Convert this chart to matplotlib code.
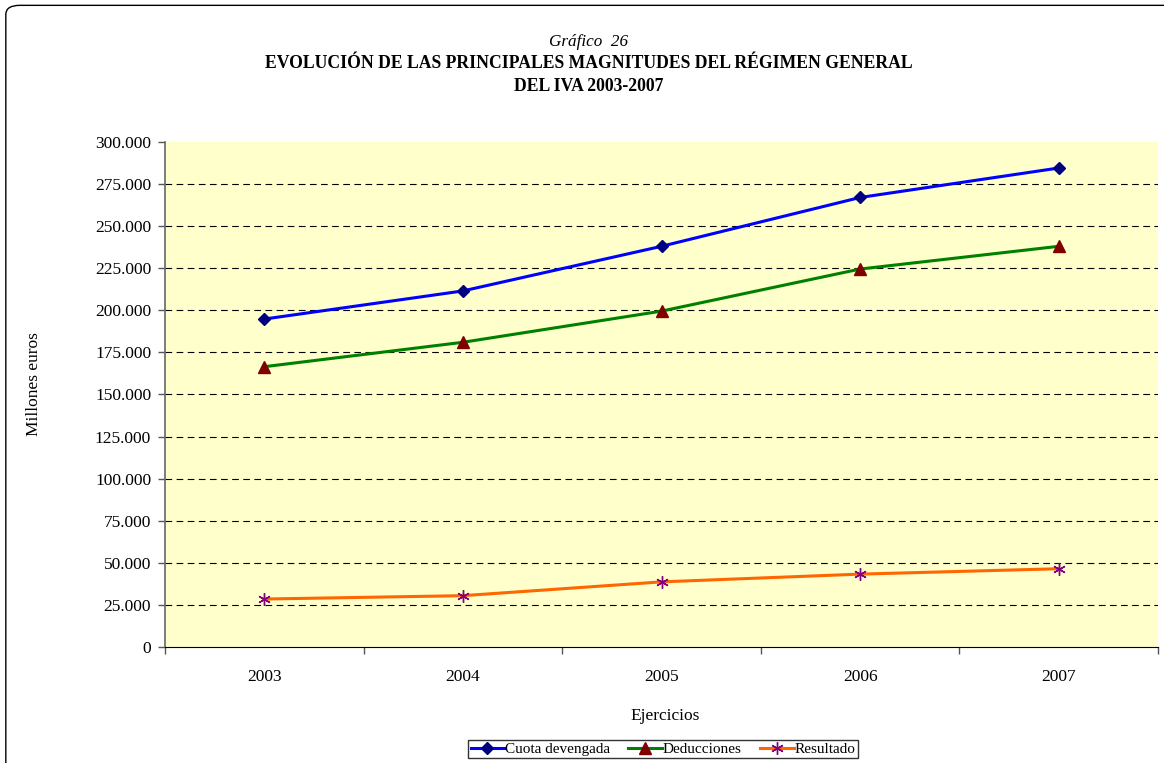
import matplotlib
matplotlib.use("Agg")
import matplotlib.pyplot as plt
from matplotlib.patches import FancyBboxPatch
from matplotlib.ticker import FuncFormatter, FixedLocator
import numpy as np

plt.rcParams['font.family'] = ['Liberation Serif', 'DejaVu Serif']

years = ["2003", "2004", "2005", "2006", "2007"]
cuota = [194800, 211500, 238000, 267000, 284500]
deducciones = [166500, 181000, 199500, 224500, 238000]
resultado = [28500, 30500, 38700, 43300, 46500]

fig = plt.figure(figsize=(11.64, 7.63), dpi=100)

# rounded frame around the whole chart
frame = FancyBboxPatch((0.005, -0.05), 1.2, 1.043, boxstyle="round,pad=0,rounding_size=0.012",
                       transform=fig.transFigure, fill=False, edgecolor="black", linewidth=1.0)
fig.patches.append(frame)

ax = fig.add_axes([0.1418, 0.152, 0.853, 0.662])
ax.set_facecolor("#ffffcc")

x = np.arange(len(years))
ax.plot(x, cuota, color="#0000ff", lw=2.2, marker="D", ms=6.5, mfc="#000080", mec="#000080",
        label="Cuota devengada", zorder=3)
ax.plot(x, deducciones, color="#008000", lw=2.2, marker="^", ms=8, mfc="#800000", mec="#800000",
        label="Deducciones", zorder=3)
ax.plot(x, resultado, color="#ff6600", lw=2.2, marker=(6, 2, 0), ms=9, mfc="#800080", mec="#800080",
        mew=1.0, label="Resultado", zorder=3)

ax.set_xlim(-0.5, len(years) - 0.5)
ax.set_ylim(0, 300000)
ax.set_yticks(np.arange(0, 300001, 25000))
ax.yaxis.set_major_formatter(FuncFormatter(lambda v, p: "0" if v == 0 else f"{int(v):,}".replace(",", ".")))
for yv in np.arange(25000, 300000, 25000):
    ax.axhline(yv, color="black", lw=0.8, ls=(0, (6, 4)), zorder=1)

ax.set_xticks(x)
ax.set_xticklabels(years)
ax.tick_params(axis="x", which="major", length=0, pad=16, labelsize=12.5)
ax.xaxis.set_minor_locator(FixedLocator(np.arange(-0.5, len(years), 1.0)))
ax.tick_params(axis="x", which="minor", length=5, width=1, color="#555555")
ax.tick_params(axis="y", length=5, width=1, color="#555555", labelsize=12.5, pad=5)

for s in ["top", "right"]:
    ax.spines[s].set_visible(False)
ax.spines["left"].set_color("#666666")
ax.spines["left"].set_linewidth(1.2)
ax.spines["bottom"].set_color("black")

fig.text(0.506, 0.945, "Gráfico  26", ha="center", va="center", fontsize=12.3, style="italic")
fig.text(0.506, 0.917, "EVOLUCIÓN DE LAS PRINCIPALES MAGNITUDES DEL RÉGIMEN GENERAL",
         ha="center", va="center", fontsize=12.7, fontweight="bold")
fig.text(0.506, 0.887, "DEL IVA 2003-2007", ha="center", va="center", fontsize=12.7, fontweight="bold")

fig.text(0.029, 0.497, "Millones euros", rotation=90, ha="center", va="center", fontsize=12.5)
fig.text(0.571, 0.062, "Ejercicios", ha="center", va="center", fontsize=12.5)

leg = fig.legend(loc="center", bbox_to_anchor=(0.5695, 0.0183), ncol=3, fontsize=11,
                 frameon=True, fancybox=False, edgecolor="black", handlelength=2.2,
                 handletextpad=0.05, columnspacing=1.2, borderpad=0.15)
leg.get_frame().set_linewidth(1.0)

fig.savefig("out.png", dpi=100)
